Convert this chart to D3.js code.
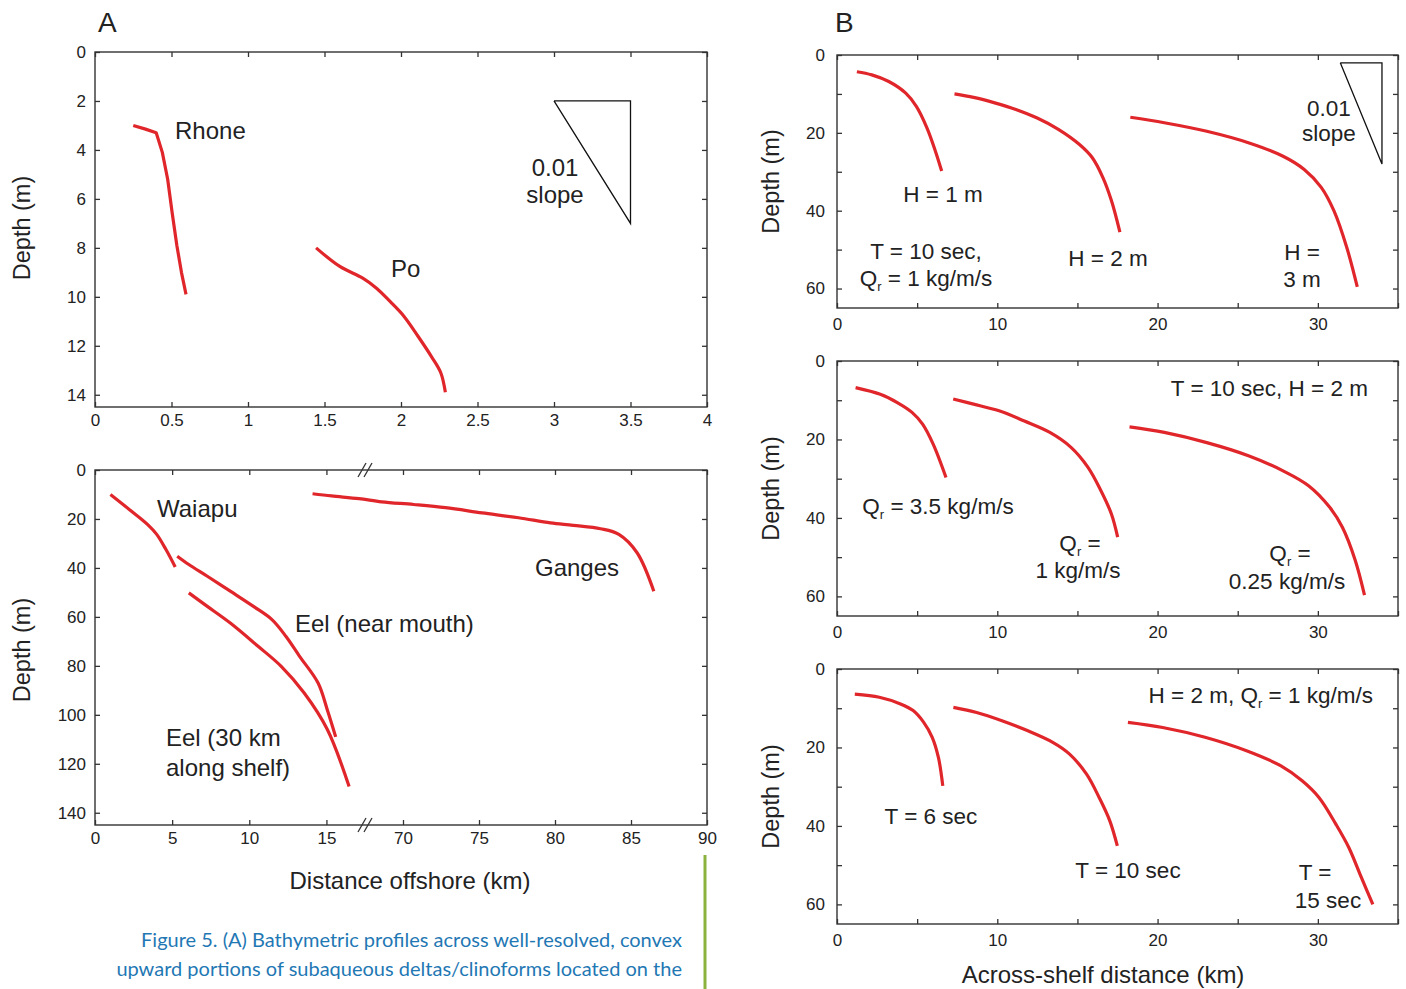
<!DOCTYPE html>
<html>
<head>
<meta charset="utf-8">
<script src="https://cdn.jsdelivr.net/npm/d3@7/dist/d3.min.js"></script>
<style>
  body { margin: 0; background: #fff; }
  svg text { font-family: "Liberation Sans", Arimo, Helvetica, Arial, Roboto, sans-serif !important; fill: #222; }
  svg text.caption { font-family: Lato, "Open Sans", sans-serif !important; fill: #1f78b4; }
</style>
</head>
<body>
<svg id="fig" width="1406" height="989"></svg>
<script>
// ---------- data: panel A, top (small deltas) ----------
const rhone = [[0.25,3.0],[0.33,3.15],[0.40,3.3],[0.44,4.1],[0.475,5.2],[0.505,6.6],[0.535,7.9],[0.565,9.0],[0.595,9.9]];
const po = [[1.445,8.0],[1.60,8.76],[1.75,9.24],[1.84,9.65],[1.93,10.2],[2.02,10.8],[2.11,11.6],[2.20,12.45],[2.26,13.1],[2.29,13.9]];
const slopeA = [[3,2],[3.5,2],[3.5,7],[3,2]];
const xTicksA1 = [0,0.5,1,1.5,2,2.5,3,3.5,4];
const yTicksA1 = [0,2,4,6,8,10,12,14];

// ---------- data: panel A, bottom (large deltas, broken x axis) ----------
const waiapu = [[1,10],[2.2,16],[3.4,22.2],[4,26.3],[4.6,32.5],[5.2,39.6]];
const eelMouth = [[5.33,35.2],[6.08,38.6],[7.28,43.4],[8.77,49.5],[10.27,55.7],[11.47,61.1],[12.37,67.9],[13.26,76.1],[14.46,87],[15.06,98],[15.6,109]];
const eel30 = [[6.08,50.2],[7.28,55.7],[8.77,62.5],[10.57,72],[12.07,80.2],[13.56,91.1],[15.06,106],[16.47,129.3]];
const ganges = [[64.05,9.7],[65.3,10.6],[67.1,11.7],[68.6,13],[70.7,14.1],[72.8,15.4],[75.2,17.5],[77.6,19.5],[79.7,21.6],[81.2,22.6],[83,24],[84.2,26.3],[85.4,33.8],[86.5,49.5]];
const xTicksA2left = [0,5,10,15];
const xTicksA2right = [70,75,80,85,90];
const yTicksA2 = [0,20,40,60,80,100,120,140];

// ---------- data: panel B (model runs) ----------
const hRuns = [
  [[1.24,4.3],[2.17,5.1],[3.23,6.8],[4.29,9.8],[4.95,13.2],[5.61,18.7],[6.14,24.7],[6.53,29.8]],
  [[7.33,10],[8.52,10.9],[9.84,12.3],[11.16,14],[12.49,16.2],[13.81,19.1],[15.13,23],[15.93,26.4],[16.59,31.5],[17.12,37.4],[17.65,45.5]],
  [[18.3,16],[20.42,17.4],[23.07,19.6],[25.71,22.6],[27.83,26],[29.15,29.4],[30.21,34],[31.0,40],[31.8,49.4],[32.46,59.6]]
];
const qRuns = [
  [[1.16,6.8],[2.7,8.5],[3.76,10.6],[4.68,13.1],[5.34,16.1],[6.0,21.2],[6.8,29.7]],
  [[7.25,9.7],[8.52,11],[10.11,12.7],[11.69,15.3],[13.28,18.2],[14.6,22],[15.66,27.1],[16.46,33],[17.12,39],[17.51,44.9]],
  [[18.25,16.8],[20.42,18.2],[23.07,20.8],[25.71,24.2],[27.83,28],[29.42,31.8],[30.74,37.3],[31.53,42.4],[32.33,50.8],[32.91,59.7]]
];
const tRuns = [
  [[1.11,6.4],[2.64,7.2],[3.96,8.9],[4.75,10.6],[5.41,13.6],[5.94,17.4],[6.33,22.6],[6.6,29.8]],
  [[7.26,9.8],[8.71,11.1],[10.29,13.2],[11.87,15.7],[13.46,18.7],[14.51,21.7],[15.57,26.8],[16.36,32.8],[17.02,38.7],[17.49,45.1]],
  [[18.15,13.6],[20.32,14.9],[22.96,17.4],[25.59,20.9],[27.7,24.7],[29.02,28.5],[30.08,32.8],[31.13,39.6],[31.93,45.5],[32.72,53.2],[33.43,60]]
];
const slopeB = [[31.4,2],[34,2],[34,28],[31.4,2]];
const xTicksB = [0,5,10,15,20,25,30,35];
const xLabelsB = [0,10,20,30];
const yTicksB = [0,10,20,30,40,50,60];
const yLabelsB = [0,20,40,60];

const RED = "#e0262a";
const svg = d3.select("#fig");

// inward ticks on all four sides, labels only on left/bottom
function axes(g, x, y, b, xt, xl, yt, yl, padX, padY) {
  const fmtX = d => xl.includes(d) ? d : "";
  const fmtY = d => yl.includes(d) ? d : "";
  g.append("g").attr("transform", `translate(0,${b.bottom})`)
    .call(d3.axisBottom(x).tickValues(xt).tickFormat(fmtX).tickSize(-5).tickSizeOuter(0).tickPadding(padX));
  g.append("g").attr("transform", `translate(0,${b.top})`)
    .call(d3.axisTop(x).tickValues(xt).tickFormat("").tickSize(-5).tickSizeOuter(0));
  g.append("g").attr("transform", `translate(${b.left},0)`)
    .call(d3.axisLeft(y).tickValues(yt).tickFormat(fmtY).tickSize(-5).tickSizeOuter(0).tickPadding(padY));
  g.append("g").attr("transform", `translate(${b.right},0)`)
    .call(d3.axisRight(y).tickValues(yt).tickFormat("").tickSize(-5).tickSizeOuter(0));
}

function styleAxes(g) {
  g.selectAll(".domain").remove();
  g.selectAll(".tick line").attr("stroke", "#333").attr("stroke-width", 1.3);
  g.selectAll(".tick text").style("font-size", "17px").attr("fill", "#222");
  g.append("rect")
    .attr("x", g.datum().left).attr("y", g.datum().top)
    .attr("width", g.datum().right - g.datum().left).attr("height", g.datum().bottom - g.datum().top)
    .attr("fill", "none").attr("stroke", "#333").attr("stroke-width", 1.4);
}

// lines: array of rows; "_r" marks a subscript r; gap = px between baselines
function label(g, x, y, lines, size, gap, anchor) {
  const t = g.append("text").attr("x", x).attr("y", y)
    .attr("text-anchor", anchor || "middle").style("font-size", size + "px");
  lines.forEach((ln, i) => {
    const row = t.append("tspan").attr("x", x).attr("y", y + i * (gap || 0));
    ln.split("_r").forEach((part, j) => {
      if (j > 0) row.append("tspan").text("r").style("font-size", Math.round(size * 0.58) + "px").attr("dy", 5);
      row.append("tspan").text(part).attr("dy", j > 0 ? -5 : null);
    });
  });
}

function yTitle(x, y) {
  svg.append("text").attr("transform", `translate(${x},${y}) rotate(-90)`)
    .attr("text-anchor", "middle").style("font-size", "23.5px").text("Depth (m)");
}

const line = (x, y, curve) => d3.line().x(d => x(d[0])).y(d => y(d[1])).curve(curve || d3.curveLinear);

function redPath(g, data, gen) {
  g.append("path").datum(data).attr("d", gen)
    .attr("fill", "none").attr("stroke", RED).attr("stroke-width", 3.2)
    .attr("stroke-linejoin", "round").attr("stroke-linecap", "butt");
}

// ---------- Panel A top ----------
{
  const b = {left: 95, top: 52, right: 707, bottom: 407};
  const x = d3.scaleLinear().domain([0, 4]).range([b.left, b.right]);
  const y = d3.scaleLinear().domain([0, 14.5]).range([b.top, b.bottom]);
  const g = svg.append("g").datum(b);
  axes(g, x, y, b, xTicksA1, xTicksA1, yTicksA1, yTicksA1, 7, 9);
  styleAxes(g);
  const gen = line(x, y);
  redPath(g, rhone, gen);
  redPath(g, po, line(x, y, d3.curveCatmullRom));
  g.append("path").datum(slopeA).attr("d", gen).attr("fill", "none").attr("stroke", "#111").attr("stroke-width", 1.3);
  label(g, 175, 139, ["Rhone"], 24, 0, "start");
  label(g, 391, 277, ["Po"], 24, 0, "start");
  label(g, 555, 176, ["0.01", "slope"], 24, 27);
  yTitle(30, 228);
}

// ---------- Panel A bottom (broken distance axis) ----------
{
  const b = {left: 95, top: 470, right: 707, bottom: 825};
  const xb = 365;
  const xL = d3.scaleLinear().domain([0, 17.5]).range([b.left, xb]);
  const xR = d3.scaleLinear().domain([67.5, 90]).range([xb, b.right]);
  const y = d3.scaleLinear().domain([0, 145]).range([b.top, b.bottom]);
  const g = svg.append("g").datum(b);
  [[xL, xTicksA2left], [xR, xTicksA2right]].forEach(([sc, tv]) => {
    g.append("g").attr("transform", `translate(0,${b.bottom})`)
      .call(d3.axisBottom(sc).tickValues(tv).tickSize(-5).tickSizeOuter(0).tickPadding(7));
    g.append("g").attr("transform", `translate(0,${b.top})`)
      .call(d3.axisTop(sc).tickValues(tv).tickFormat("").tickSize(-5).tickSizeOuter(0));
  });
  g.append("g").attr("transform", `translate(${b.left},0)`)
    .call(d3.axisLeft(y).tickValues(yTicksA2).tickSize(-5).tickSizeOuter(0).tickPadding(9));
  g.append("g").attr("transform", `translate(${b.right},0)`)
    .call(d3.axisRight(y).tickValues(yTicksA2).tickFormat("").tickSize(-5).tickSizeOuter(0));
  styleAxes(g);
  // break marks
  [b.top, b.bottom].forEach(yy => {
    [-3, 3].forEach(dx => {
      g.append("line").attr("x1", xb + dx - 4).attr("y1", yy + 7).attr("x2", xb + dx + 4).attr("y2", yy - 7)
        .attr("stroke", "#333").attr("stroke-width", 1.3);
    });
  });
  const genL = line(xL, y, d3.curveCatmullRom), genR = line(xR, y, d3.curveCatmullRom);
  redPath(g, waiapu, genL);
  redPath(g, eelMouth, genL);
  redPath(g, eel30, genL);
  redPath(g, ganges, genR);
  label(g, 157, 517, ["Waiapu"], 24, 0, "start");
  label(g, 535, 576, ["Ganges"], 24, 0, "start");
  label(g, 295, 632, ["Eel (near mouth)"], 24, 0, "start");
  label(g, 166, 746, ["Eel (30 km", "along shelf)"], 24, 30, "start");
  yTitle(30, 650);
  svg.append("text").attr("x", 410).attr("y", 889).attr("text-anchor", "middle")
    .style("font-size", "24px").text("Distance offshore (km)");
}

// ---------- Panel B (three model panels) ----------
const panelsB = [
  {top: 55, bottom: 308, runs: hRuns, tri: true,
   labels: [[943, 202, ["H = 1 m"]], [926, 259, ["T = 10 sec,", "Q_r = 1 kg/m/s"]], [1108, 266, ["H = 2 m"]], [1302, 260, ["H =", "3 m"]]]},
  {top: 361, bottom: 616, runs: qRuns,
   labels: [[1368, 396, ["T = 10 sec, H = 2 m"], "end"], [938, 514, ["Q_r = 3.5 kg/m/s"]], [1080, 551, ["Q_r ="]], [1078, 578, ["1 kg/m/s"]],
            [1290, 561, ["Q_r ="]], [1287, 589, ["0.25 kg/m/s"]]]},
  {top: 669, bottom: 924, runs: tRuns,
   labels: [[1373, 703, ["H = 2 m, Q_r = 1 kg/m/s"], "end"], [931, 824, ["T = 6 sec"]], [1128, 878, ["T = 10 sec"]],
            [1315, 880, ["T ="]], [1328, 908, ["15 sec"]]]}
];

panelsB.forEach(p => {
  const b = {left: 837, top: p.top, right: 1398, bottom: p.bottom};
  const x = d3.scaleLinear().domain([0, 35]).range([b.left, b.right]);
  const y = d3.scaleLinear().domain([0, 65]).range([b.top, b.bottom]);
  const g = svg.append("g").datum(b);
  axes(g, x, y, b, xTicksB, xLabelsB, yTicksB, yLabelsB, 10, 12);
  styleAxes(g);
  const gen = line(x, y, d3.curveCatmullRom);
  p.runs.forEach(r => redPath(g, r, gen));
  if (p.tri) {
    g.append("path").datum(slopeB).attr("d", line(x, y)).attr("fill", "none").attr("stroke", "#111").attr("stroke-width", 1.3);
    label(g, 1329, 116, ["0.01", "slope"], 22.5, 25);
  }
  p.labels.forEach(l => label(g, l[0], l[1], l[2], 22.5, 27, l[3]));
  yTitle(779, (b.top + b.bottom) / 2);
});

svg.append("text").attr("x", 1103).attr("y", 983).attr("text-anchor", "middle")
  .style("font-size", "24px").text("Across-shelf distance (km)");

// panel letters
svg.append("text").attr("x", 98).attr("y", 32).style("font-size", "28px").text("A");
svg.append("text").attr("x", 835).attr("y", 32).style("font-size", "28px").text("B");

// caption
const cap = ["Figure 5. (A) Bathymetric profiles across well-resolved, convex",
             "upward portions of subaqueous deltas/clinoforms located on the"];
cap.forEach((c, i) => {
  svg.append("text").attr("class", "caption").attr("x", 682).attr("y", 947 + i * 29).attr("text-anchor", "end")
    .style("font-size", "20px").text(c);
});
svg.append("line").attr("x1", 705).attr("y1", 855).attr("x2", 705).attr("y2", 989)
  .attr("stroke", "#8ab23c").attr("stroke-width", 3);
</script>
</body>
</html>
